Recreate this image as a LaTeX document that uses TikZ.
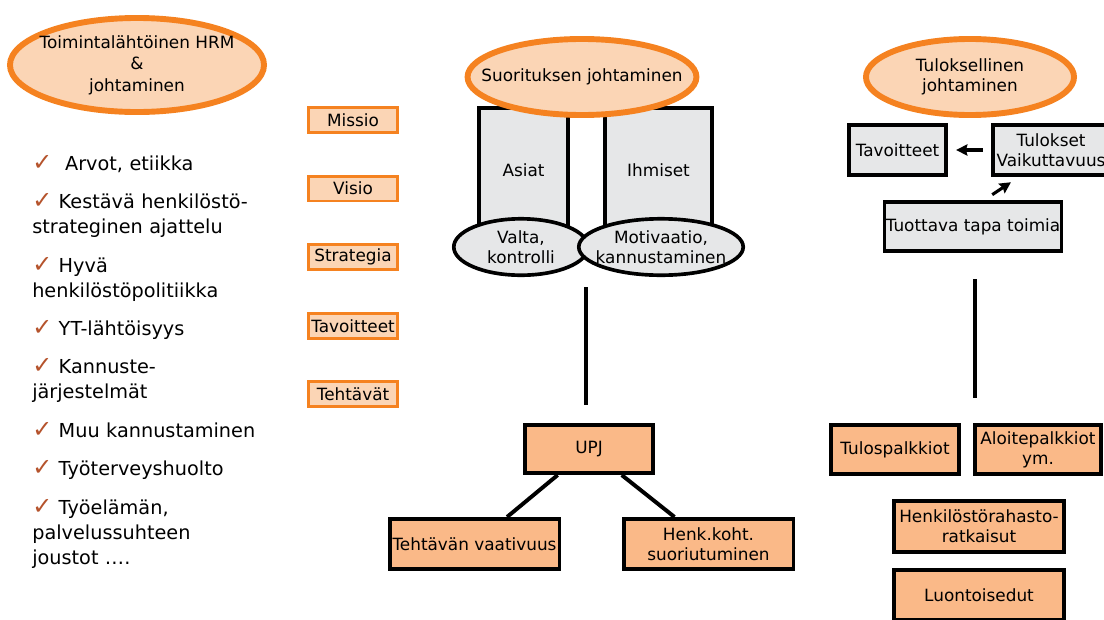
\documentclass[tikz,border=0pt]{standalone}
\usepackage{fontspec}
\setmainfont{DejaVu Sans}
\newfontfamily\listfont{DejaVu Sans}
\usetikzlibrary{arrows.meta,positioning,shapes.geometric}
\definecolor{hrorange}{HTML}{F58220}
\definecolor{lightpeach}{HTML}{FBD5B5}
\definecolor{peach}{HTML}{FAB988}
\definecolor{boxgrey}{HTML}{E6E7E8}
\definecolor{tickred}{HTML}{B5532C}
\newcommand{\okmark}{\textcolor{tickred}{\fontsize{17}{17}\selectfont ✓}}

\begin{document}
\begin{tikzpicture}
[x=0.025cm, y=-0.025cm, font=\fontsize{12}{14.3}\selectfont,
% STYLES
% orange ovals for the three headings
heading/.style={ellipse, draw=hrorange, line width=4.2pt, fill=lightpeach, inner sep=-14pt, align=center, minimum height=1.9cm},
% small boxes of the middle column
ladder/.style={rectangle, draw=hrorange, line width=2.1pt, fill=lightpeach, inner sep=1pt, minimum width=2.22cm, minimum height=0.62cm, node distance=1.02cm},
% grey boxes and ovals
pillar/.style={rectangle, draw, line width=2.6pt, fill=boxgrey, align=center, minimum height=3.12cm},
footing/.style={ellipse, draw, line width=2.6pt, fill=boxgrey, inner sep=-9pt, align=center, minimum height=1.41cm},
goalbox/.style={rectangle, draw, line width=2.6pt, fill=boxgrey, inner sep=1pt, align=center, minimum height=1.26cm},
% the reward forms
reward/.style={rectangle, draw, line width=2.6pt, fill=peach, inner sep=1pt, align=center, minimum height=1.24cm},
link/.style={line width=2.8pt},
pointer/.style={line width=2.2pt, -{Stealth[length=8pt,width=8pt,inset=1pt]}},
checklist/.style={anchor=north west, inner sep=0pt, text width=7cm, align=left, font=\listfont\fontsize{13.7}{17.8}\selectfont}]

\useasboundingbox (0,0) rectangle (1104,619);

% left column
\node [heading, minimum width=6.35cm, minimum height=2.35cm, font=\fontsize{12}{15.3}\selectfont] (hrm) at (137,65) {Toimintalähtöinen HRM\\\&\\johtaminen};

\node [checklist] (values) at (32,155) {\okmark\ \ Arvot, etiikka\\[9.5pt]%
\okmark\ Kestävä henkilöstö-\\strateginen ajattelu\\[9.5pt]%
\okmark\ Hyvä\\henkilöstöpolitiikka\\[9.5pt]%
\okmark\ YT-lähtöisyys\\[9.5pt]%
\okmark\ Kannuste-\\järjestelmät\\[9.5pt]%
\okmark\ Muu kannustaminen\\[9.5pt]%
\okmark\ Työterveyshuolto\\[9.5pt]%
\okmark\ Työelämän,\\palvelussuhteen\\joustot \dots.};

\node [ladder] (missio) at (353,120) {Missio};
\node [ladder, below=of missio] (visio) {Visio};
\node [ladder, below=of visio] (strategia) {Strategia};
\node [ladder, below=of strategia] (tavoite) {Tavoitteet};
\node [ladder, below=of tavoite] (tehtavat) {Tehtävät};

% suorituksen johtaminen
\node [pillar, minimum width=2.24cm] (asiat) at (523.5,170.5) {Asiat};
\node [pillar, minimum width=2.69cm] (ihmiset) at (658.5,170.5) {Ihmiset};
\node [heading, minimum width=5.65cm] (suoritus) at (582,77) {Suorituksen johtaminen};
\node [footing, minimum width=3.36cm] (valta) at (521,247) {Valta,\\kontrolli};
\node [footing, minimum width=4.11cm] (motiv) at (661,247) {Motivaatio,\\kannustaminen};

\node [reward, minimum width=3.21cm, minimum height=1.21cm] (upj) at (589,449) {UPJ};
\node [reward, minimum width=4.24cm, minimum height=1.26cm] (tehtava) at (474.5,544) {Tehtävän vaativuus};
\node [reward, minimum width=4.24cm, minimum height=1.26cm] (henk) at (708.5,544) {Henk.koht.\\suoriutuminen};

% tuloksellinen johtaminen
\node [heading, minimum width=5.2cm] (tulos) at (970,77) {Tuloksellinen\\johtaminen};
\node [goalbox, minimum width=2.44cm] (tavoitteet) at (897.5,150) {Tavoitteet};
\node [goalbox, minimum width=2.91cm] (tulokset) at (1051,150) {Tulokset\\Vaikuttavuus};
\node [goalbox, minimum width=4.41cm, minimum height=1.24cm] (tuottava) at (973,226.5) {Tuottava tapa toimia};

\node [reward, minimum width=3.21cm] (tulospalkkiot) at (895,449.5) {Tulospalkkiot};
\node [reward, minimum width=3.16cm] (aloite) at (1038,449.5) {Aloitepalkkiot\\ym.};
\node [reward, minimum width=4.26cm, minimum height=1.29cm] (rahasto) at (979,526.5) {Henkilöstörahasto-\\ratkaisut};
\node [reward, minimum width=4.26cm, below=0.35cm of rahasto] (luontois) {Luontoisedut};

%%%%%%%%%%%%%%%

\coordinate (midtop) at (586,287);
\coordinate (midbot) at (586,405);
\coordinate (righttop) at (975,279);
\coordinate (rightbot) at (975,398);

\path[link]
(midtop) edge (midbot)
(righttop) edge (rightbot)
(upj) edge (tehtava)
(upj) edge (henk);

\draw[pointer, shorten <=0.2cm, shorten >=0.2cm] (tulokset.west) -- (tavoitteet.east);
\draw[pointer] ([xshift=0.48cm,yshift=0.13cm]tuottava.north) -- ([xshift=0.5cm,yshift=-0.13cm]tulokset.south west);

\end{tikzpicture}
\end{document}
